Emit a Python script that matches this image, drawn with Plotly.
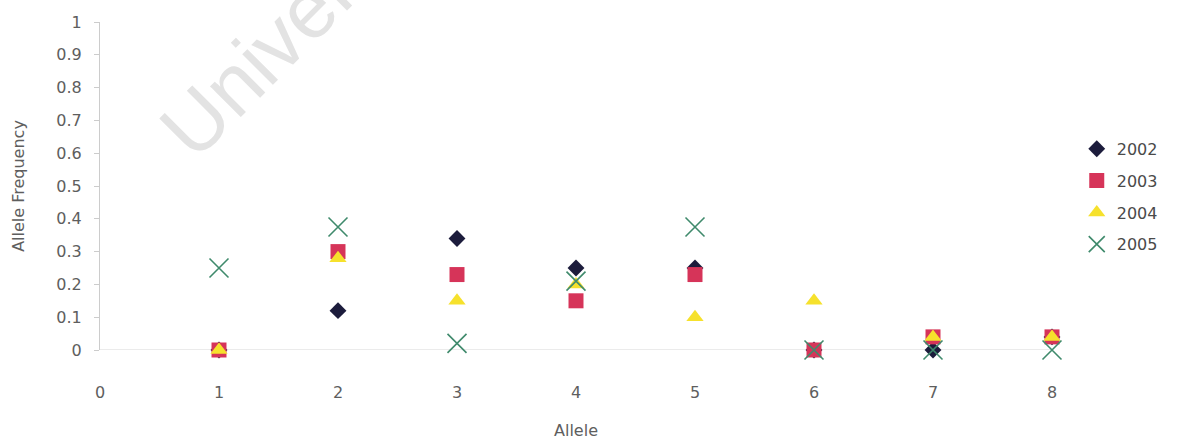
import plotly.graph_objects as go

# Allele frequencies by year
alleles = [1, 2, 3, 4, 5, 6, 7, 8]
freq_2002 = [0.0, 0.12, 0.34, 0.25, 0.25, 0.0, 0.0, 0.04]
freq_2003 = [0.0, 0.30, 0.23, 0.15, 0.23, 0.0, 0.04, 0.04]
freq_2004 = [0.0, 0.28, 0.15, 0.20, 0.10, 0.15, 0.04, 0.04]
freq_2005 = [0.25, 0.375, 0.02, 0.21, 0.375, 0.0, 0.0, 0.0]

years = ["2002", "2003", "2004", "2005"]
x_ticks = [0, 1, 2, 3, 4, 5, 6, 7, 8]
y_ticks = [0, 0.1, 0.2, 0.3, 0.4, 0.5, 0.6, 0.7, 0.8, 0.9, 1]
y_tick_text = ["0", "0.1", "0.2", "0.3", "0.4", "0.5", "0.6", "0.7", "0.8", "0.9", "1"]

series = [
    (years[0], freq_2002, dict(symbol="diamond", size=13, color="#1c1c3c")),
    (years[1], freq_2003, dict(symbol="square", size=15, color="#d63459")),
    (years[2], freq_2004, dict(symbol="triangle-up", size=15, color="#f6e12c")),
    (years[3], freq_2005, dict(symbol="x-thin-open", size=19,
                               line=dict(color="#3f8a6c", width=1.6),
                               color="#3f8a6c")),
]

fig = go.Figure()
for name, vals, marker in series:
    fig.add_trace(go.Scatter(
        x=alleles, y=vals, mode="markers", name=name,
        legendgroup=name, marker=marker, cliponaxis=False,
    ))

font_family = "DejaVu Sans, Liberation Sans, Arial, sans-serif"
label_grey = "#5e5e5e"

fig.update_layout(
    width=1181, height=442,
    margin=dict(l=100, r=129, t=22, b=92),
    paper_bgcolor="white", plot_bgcolor="white",
    font=dict(family=font_family, size=16, color=label_grey),
    showlegend=True,
    legend=dict(
        x=1.026, y=0.665, xanchor="left", yanchor="top",
        font=dict(size=16, color="#4a4a4a"),
        tracegroupgap=8, itemwidth=30,
        bgcolor="rgba(0,0,0,0)",
    ),
    xaxis=dict(
        range=[0, 8], tickvals=x_ticks, ticktext=[str(v) for v in x_ticks],
        showgrid=False, zeroline=False, showline=False,
        ticks="", ticklabelstandoff=31, automargin=False,
        tickfont=dict(size=16, color=label_grey),
        title=dict(text="Allele", font=dict(size=16, color=label_grey), standoff=23),
    ),
    yaxis=dict(
        range=[0, 1], tickvals=y_ticks, ticktext=y_tick_text,
        showgrid=False, zeroline=False, automargin=False,
        showline=True, linecolor="#cccccc", linewidth=1,
        ticks="outside", ticklen=5, tickcolor="#cccccc",
        ticklabelstandoff=9,
        tickfont=dict(size=16, color=label_grey),
        title=dict(text="Allele Frequency", font=dict(size=16, color=label_grey), standoff=27),
    ),
)

# horizontal axis line at zero
fig.add_shape(type="line", xref="x", yref="y", x0=0, x1=8, y0=0, y1=0,
              line=dict(color="#d8d8d8", width=1.2), layer="below")

# faint diagonal watermark in the upper left
fig.add_annotation(
    text="University", xref="paper", yref="paper",
    x=0.212, y=1.02, xanchor="center", yanchor="middle",
    showarrow=False, textangle=-45,
    font=dict(family="Liberation Sans, Arial, sans-serif", size=82, color="#e3e3e3"),
)

fig.write_html("out.html")
